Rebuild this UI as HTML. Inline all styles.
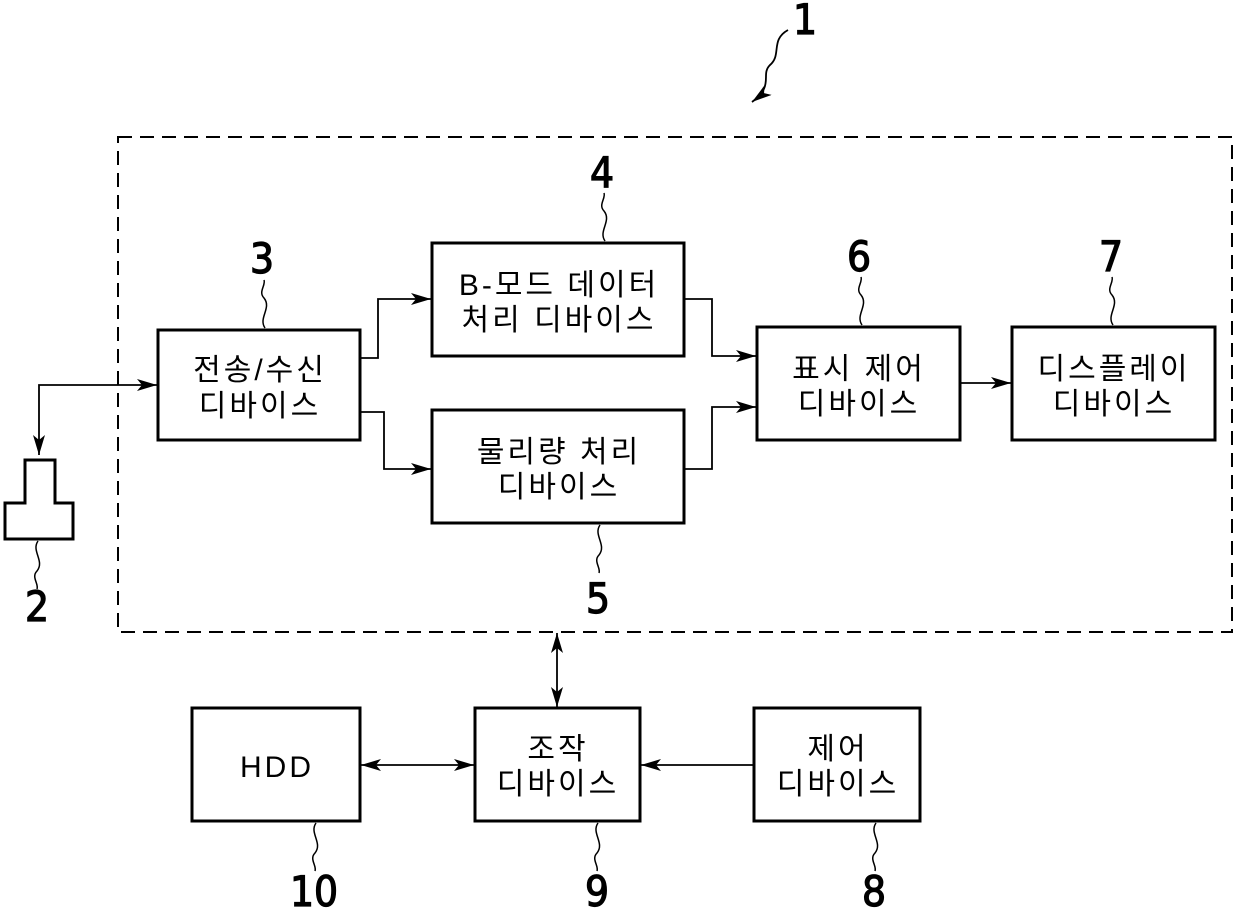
<!DOCTYPE html>
<html><head><meta charset="utf-8"><style>
html,body{margin:0;padding:0;background:#fff;}
svg{display:block;}
text{font-family:"Liberation Sans","Noto Sans CJK KR","NanumGothic",sans-serif;fill:#000;}
.b{fill:#fff;stroke:#000;stroke-width:3;}
.l{fill:none;stroke:#000;stroke-width:1.8;}
.w{fill:none;stroke:#000;stroke-width:1.5;}
.t{font-size:30px;text-anchor:middle;letter-spacing:3px;}
.n{font-size:42px;text-anchor:middle;font-family:"DejaVu Sans Condensed","DejaVu Sans",sans-serif;stroke:#000;stroke-width:1.2;}
</style></head><body>
<svg width="1240" height="912" viewBox="0 0 1240 912">
<defs><marker id="a" viewBox="0 0 20 12" refX="20" refY="6" markerWidth="20" markerHeight="12" markerUnits="userSpaceOnUse" orient="auto-start-reverse"><path d="M0,0 L20,6 L0,12 L5,6 z" fill="#000"/></marker></defs>
<rect x="118" y="137" width="1114" height="495" fill="none" stroke="#000" stroke-width="2" stroke-dasharray="14,8"/>
<path class="b" d="M25,460 H55 V503 H73 V539 H5 V503 H25 Z"/>
<path class="l" d="M157,385 H39 V455" marker-start="url(#a)" marker-end="url(#a)"/>
<rect class="b" x="158" y="330" width="202" height="110"/>
<rect class="b" x="432" y="243" width="252" height="113"/>
<rect class="b" x="432" y="410" width="252" height="113"/>
<rect class="b" x="757" y="327" width="203" height="113"/>
<rect class="b" x="1012" y="327" width="203" height="113"/>
<rect class="b" x="192" y="708" width="168" height="113"/>
<rect class="b" x="475" y="708" width="165" height="113"/>
<rect class="b" x="754" y="708" width="166" height="113"/>
<path class="l" d="M360,358 H378 V299 H431" marker-end="url(#a)"/>
<path class="l" d="M360,412 H384 V469 H431" marker-end="url(#a)"/>
<path class="l" d="M684,299 H712 V356 H756" marker-end="url(#a)"/>
<path class="l" d="M684,469 H712 V407 H756" marker-end="url(#a)"/>
<path class="l" d="M960,383 H1011" marker-end="url(#a)"/>
<path class="l" d="M557,633 V707" marker-start="url(#a)" marker-end="url(#a)"/>
<path class="l" d="M361,765 H474" marker-start="url(#a)" marker-end="url(#a)"/>
<path class="l" d="M754,765 H641" marker-end="url(#a)"/>
<text class="t" x="260" y="380">전송/수신</text><text class="t" x="260" y="416">디바이스</text>
<text class="t" x="559" y="295">B-모드 데이터</text><text class="t" x="559" y="330">처리 디바이스</text>
<text class="t" x="559" y="462">물리량 처리</text><text class="t" x="559" y="497">디바이스</text>
<text class="t" x="859" y="379">표시 제어</text><text class="t" x="859" y="414">디바이스</text>
<text class="t" x="1114" y="379">디스플레이</text><text class="t" x="1114" y="414">디바이스</text>
<text class="t" x="277" y="777">HDD</text>
<text class="t" x="558" y="759">조작</text><text class="t" x="558" y="794">디바이스</text>
<text class="t" x="838" y="759">제어</text><text class="t" x="838" y="794">디바이스</text>
<path class="w" d="M265,328 C258,318 272,308 264,298 C258,292 266,285 264,280"/>
<path class="w" d="M605,241 C598,231 612,221 604,211 C598,205 606,198 604,193"/>
<path class="w" d="M862,325 C855,315 869,305 861,295 C855,289 863,282 861,277"/>
<path class="w" d="M1113,325 C1106,315 1120,305 1112,295 C1106,289 1114,282 1112,277"/>
<path class="w" d="M600,525 C593,535 607,545 599,555 C593,561 601,568 599,573"/>
<path class="w" d="M38,541 C31,551 45,561 37,571 C31,577 39,584 37,589"/>
<path class="w" d="M316,823 C309,833 323,843 315,853 C309,859 317,866 315,871"/>
<path class="w" d="M598,823 C591,833 605,843 597,853 C591,859 599,866 597,871"/>
<path class="w" d="M876,823 C869,833 883,843 875,853 C869,859 877,866 875,871"/>
<path class="l" d="M788,30 C770,40 782,55 770,65 C760,75 775,85 752,102" marker-end="url(#a)"/>
<text class="n" x="805" y="34">1</text>
<text class="n" x="37" y="621">2</text>
<text class="n" x="262" y="273">3</text>
<text class="n" x="602" y="187">4</text>
<text class="n" x="598" y="613">5</text>
<text class="n" x="859" y="271">6</text>
<text class="n" x="1111" y="271">7</text>
<text class="n" x="874" y="906">8</text>
<text class="n" x="597" y="906">9</text>
<text class="n" x="314" y="906">10</text>
</svg>
</body></html>
